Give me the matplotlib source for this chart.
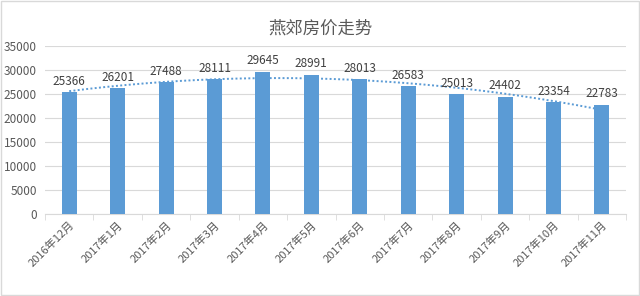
import numpy as np
import matplotlib.pyplot as plt

plt.rcParams['font.family'] = ['Noto Sans CJK SC', 'DejaVu Sans']

# Data
months = ['2016年12月', '2017年1月', '2017年2月', '2017年3月', '2017年4月', '2017年5月',
          '2017年6月', '2017年7月', '2017年8月', '2017年9月', '2017年10月', '2017年11月']
prices = [25366, 26201, 27488, 28111, 29645, 28991, 28013, 26583, 25013, 24402, 23354, 22783]

fig = plt.figure(figsize=(6.4, 2.96), dpi=100)
ax = fig.add_axes([0.0703, 0.277, 0.908, 0.568])

x = np.arange(len(months))
ax.bar(x, prices, width=0.31, color='#5b9bd5', zorder=3)

# polynomial trend line (Excel-style, order 2)
coef = np.polyfit(x, prices, 2)
xs = np.linspace(0, len(months) - 1, 200)
ax.plot(xs, np.polyval(coef, xs), linestyle=(0, (1, 1.2)), color='#5b9bd5', lw=1.4, zorder=2)

for xi, v in zip(x, prices):
    ax.text(xi, v + 900, str(v), ha='center', va='bottom', fontsize=8.5, color='#404040', zorder=5)

ax.set_xlim(-0.5, len(months) - 0.5)
ax.set_ylim(0, 35000)
ax.set_yticks(range(0, 35001, 5000))
ax.grid(axis='y', color='#d9d9d9', lw=0.8, zorder=0)
ax.set_axisbelow(True)

ax.set_xticks(x)
ax.set_xticklabels(months, rotation=45, ha='right', rotation_mode='anchor', fontsize=8, color='#595959')
ax.set_xticks(np.arange(-0.5, len(months)), minor=True)
ax.tick_params(axis='x', which='major', length=0, pad=4)
ax.tick_params(axis='x', which='minor', length=4, color='#d9d9d9')
ax.tick_params(axis='y', length=0, labelsize=8.5, labelcolor='#595959', pad=6)

for s in ['top', 'right', 'left']:
    ax.spines[s].set_visible(False)
ax.spines['bottom'].set_color('#d9d9d9')

fig.text(0.5, 0.905, '燕郊房价走势', ha='center', va='center', fontsize=12.5, color='#595959')

fig.patches.append(plt.Rectangle((0.002, 0.003), 0.996, 0.994, transform=fig.transFigure,
                                 fill=False, edgecolor='#d9d9d9', lw=1))

fig.savefig('out.png', dpi=100)
